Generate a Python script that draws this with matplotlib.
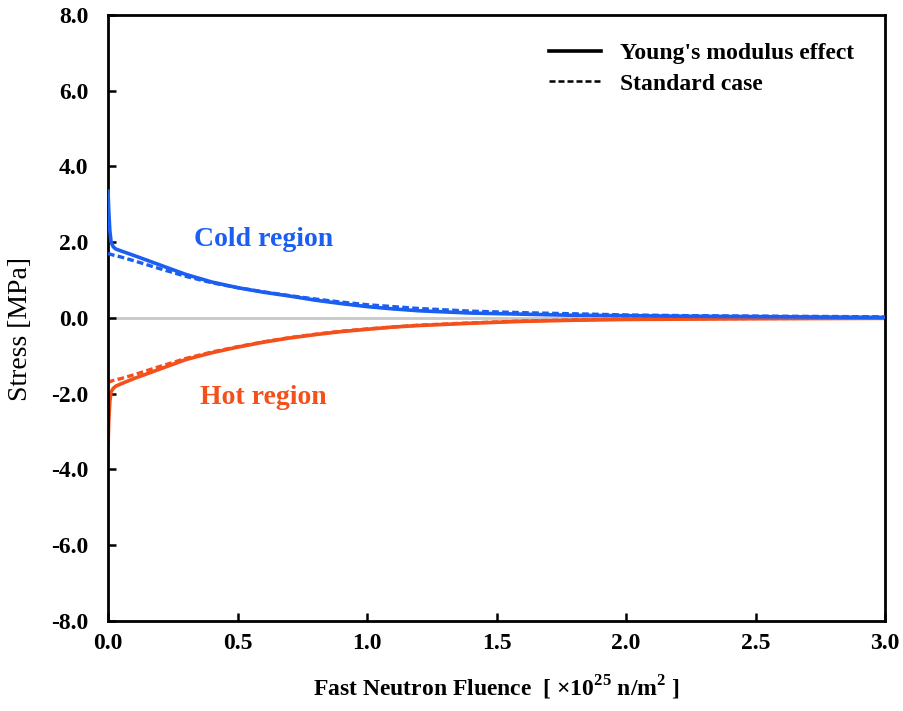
import matplotlib
matplotlib.use("Agg")
import matplotlib.pyplot as plt
from matplotlib.lines import Line2D

plt.rcParams["font.family"] = ["Liberation Serif", "DejaVu Serif"]
plt.rcParams["mathtext.fontset"] = "custom"
plt.rcParams["mathtext.rm"] = "Liberation Serif:bold"
plt.rcParams["mathtext.bf"] = "Liberation Serif:bold"

# Stress histories, fluence in 1e25 n/m2
fluence = [0.0, 0.003, 0.007, 0.012, 0.02, 0.03, 0.05, 0.1, 0.2, 0.3, 0.4, 0.5,
           0.6, 0.7, 0.8, 0.9, 1.0, 1.1, 1.2, 1.4, 1.6, 1.8, 2.0, 2.25, 2.5, 2.75, 3.0]
cold_young = [3.35, 2.8, 2.3, 2.0, 1.88, 1.82, 1.77, 1.65, 1.4, 1.15, 0.95, 0.8,
              0.68, 0.58, 0.47, 0.38, 0.3, 0.24, 0.19, 0.13, 0.1, 0.07, 0.06, 0.045, 0.035, 0.025, 0.015]
hot_young = [-3.35, -2.7, -2.2, -1.95, -1.86, -1.8, -1.74, -1.6, -1.35, -1.1, -0.92, -0.77,
             -0.64, -0.53, -0.44, -0.36, -0.3, -0.24, -0.2, -0.14, -0.09, -0.06, -0.04, -0.03, -0.02, -0.015, -0.01]

fluence_std = [0.0, 0.02, 0.05, 0.1, 0.2, 0.3, 0.4, 0.5, 0.6, 0.7, 0.8, 0.9, 1.0,
               1.2, 1.4, 1.6, 1.8, 2.0, 2.25, 2.5, 2.75, 3.0]
cold_std = [1.7, 1.66, 1.61, 1.51, 1.3, 1.1, 0.93, 0.8, 0.69, 0.59, 0.5, 0.42, 0.35,
            0.25, 0.18, 0.14, 0.11, 0.08, 0.06, 0.05, 0.04, 0.03]
hot_std = [-1.7, -1.65, -1.6, -1.5, -1.28, -1.07, -0.9, -0.76, -0.63, -0.52, -0.43, -0.35, -0.29,
           -0.19, -0.13, -0.08, -0.05, -0.03, -0.02, -0.015, -0.01, -0.005]

x_ticks = [0.0, 0.5, 1.0, 1.5, 2.0, 2.5, 3.0]
y_ticks = [-8.0, -6.0, -4.0, -2.0, 0.0, 2.0, 4.0, 6.0, 8.0]

BLUE = "#1a5ef2"
ORANGE = "#f5501b"
DASH = (0, (2.0, 1.0))

fig = plt.figure(figsize=(9.04, 7.11), dpi=100)
ax = fig.add_axes([0.1195, 0.1266, 0.8595, 0.8524])

ax.axhline(0, color="#c8c8c8", lw=2.0, zorder=1)

ax.plot(fluence, hot_young, color=ORANGE, lw=2.6, zorder=2)
ax.plot(fluence_std, hot_std, color=ORANGE, lw=2.4, ls=DASH, zorder=2)
ax.plot(fluence, cold_young, color=BLUE, lw=2.6, zorder=3)
ax.plot(fluence_std, cold_std, color=BLUE, lw=2.4, ls=DASH, zorder=3)

ax.text(0.6, 2.06, "Cold region", color=BLUE, fontsize=20, fontweight="bold",
        ha="center", va="center")
ax.text(0.6, -2.1, "Hot region", color=ORANGE, fontsize=20, fontweight="bold",
        ha="center", va="center")

ax.set_xlim(0, 3.0)
ax.set_ylim(-8, 8)
ax.set_xticks(x_ticks)
ax.set_yticks(y_ticks)
ax.set_xticklabels([f"{v:.1f}" for v in x_ticks])
ax.set_yticklabels([f"{v:.1f}" for v in y_ticks])
ax.tick_params(direction="in", length=6, width=1.8, labelsize=17)
ax.tick_params(axis="y", pad=14)
ax.tick_params(axis="x", pad=9)
for lab in ax.get_xticklabels() + ax.get_yticklabels():
    lab.set_fontweight("bold")
for sp in ax.spines.values():
    sp.set_linewidth(2.0)

ax.set_xlabel(r"Fast Neutron Fluence  [ $\times$10$^{25}$ n/m$^{2}$ ]", fontsize=17,
              fontweight="bold", labelpad=14)
ax.set_ylabel("Stress [MPa]", fontsize=20)
ax.yaxis.set_label_coords(-0.097, 0.482)

handles = [Line2D([], [], color="black", lw=2.6),
           Line2D([], [], color="black", lw=1.8, ls=(0, (2.4, 1.2)))]
leg = ax.legend(handles, ["Young's modulus effect", "Standard case"],
                loc="upper right", bbox_to_anchor=(0.988, 0.99), frameon=False,
                handlelength=2.2, handletextpad=0.8, labelspacing=0.4,
                prop={"size": 17, "weight": "bold"})

fig.savefig("out.png", dpi=100)
